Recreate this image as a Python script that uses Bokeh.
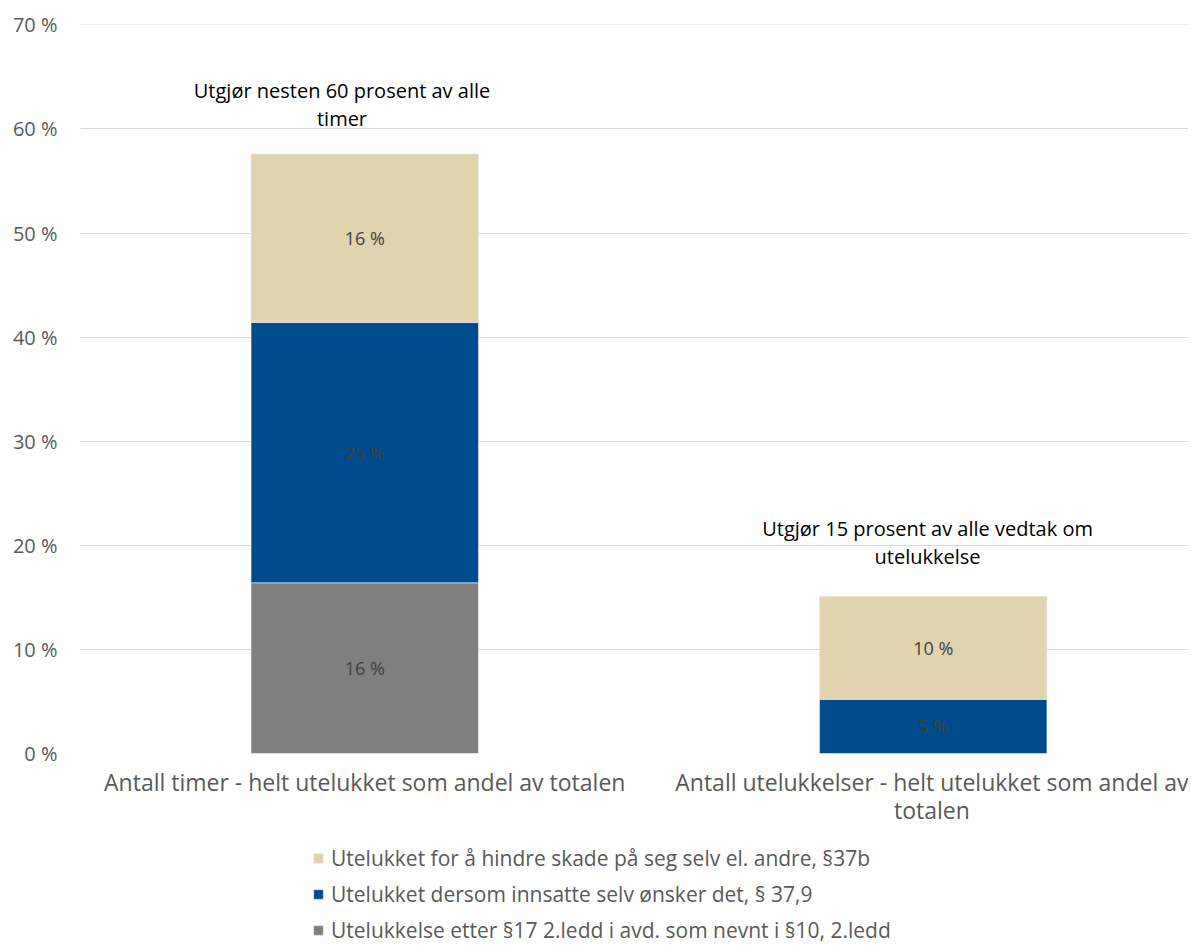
from bokeh.plotting import figure
from bokeh.models import (ColumnDataSource, Range1d, FixedTicker, PrintfTickFormatter,
                          Legend, LegendItem)
from bokeh.layouts import column
from bokeh.core.properties import value
from bokeh.embed import file_html
from bokeh.resources import INLINE

categories = ["Antall timer - helt utelukket som andel av totalen",
              "Antall utelukkelser - helt utelukket som andel av\ntotalen"]
series_names = ["Utelukkelse etter §17 2.ledd i avd. som nevnt i §10, 2.ledd",
                "Utelukket dersom innsatte selv ønsker det, § 37,9",
                "Utelukket for å hindre skade på seg selv el. andre, §37b"]
grey_vals = [16.4, 0.0]
blue_vals = [25.0, 5.2]
beige_vals = [16.2, 9.9]
annotations = ["Utgjør nesten 60 prosent av alle\ntimer",
               "Utgjør 15 prosent av alle vedtak om\nutelukkelse"]
y_ticks = [0, 10, 20, 30, 40, 50, 60, 70]

colors = ["#7F7F7F", "#004B8D", "#E0D3AE"]
keys = ["grey", "blue", "beige"]
FONT = "Open Sans"

xs = [i + 0.5 for i in range(len(categories))]
src = ColumnDataSource(dict(x=xs, grey=grey_vals, blue=blue_vals, beige=beige_vals))

p = figure(width=1188, height=842, output_backend="svg", toolbar_location=None,
           x_range=Range1d(0, 1.949), y_range=Range1d(0, 70.03),
           min_border_left=80, min_border_right=0, min_border_top=24,
           min_border_bottom=89)
p.outline_line_color = None
p.background_fill_color = "white"

rs = p.vbar_stack(keys, x="x", width=0.4, source=src, fill_color=colors,
                  line_color="#E8E8E8", line_width=0.6)

# segment value labels
lab_x, lab_y, lab_t = [], [], []
for i, x in enumerate(xs):
    base = 0.0
    for vals in (grey_vals, blue_vals, beige_vals):
        v = vals[i]
        if v > 0:
            lab_x.append(x)
            lab_y.append(base + v / 2)
            lab_t.append(f"{round(v)} %")
        base += v
p.text(x=lab_x, y=lab_y, text=lab_t, text_align="center", text_baseline="middle",
       text_font=value(FONT), text_font_size="18px", text_color="#404040")

# annotations above bars
tops = [g + b + e for g, b, e in zip(grey_vals, blue_vals, beige_vals)]
ann_x = [xs[0] - 0.04, xs[1] - 0.01]
ann_y = [tops[0] + 4.73, tops[1] + 5.2]
p.text(x=ann_x, y=ann_y, text=annotations, text_align="center", text_baseline="middle",
       text_font=value(FONT), text_font_size="20px", text_color="#000000",
       text_line_height=1.05)

# axes
p.yaxis.ticker = FixedTicker(ticks=y_ticks)
p.yaxis.formatter = PrintfTickFormatter(format="%d %%")
p.yaxis.axis_line_color = None
p.yaxis.major_tick_line_color = None
p.yaxis.minor_tick_line_color = None
p.yaxis.major_label_text_font = FONT
p.yaxis.major_label_text_font_size = "20px"
p.yaxis.major_label_text_color = "#595959"
p.yaxis.major_label_standoff = 17

p.xaxis.ticker = FixedTicker(ticks=xs)
p.xaxis.major_label_overrides = {x: c for x, c in zip(xs, categories)}
p.xaxis.axis_line_color = None
p.xaxis.major_tick_line_color = None
p.xaxis.minor_tick_line_color = None
p.xaxis.major_label_text_font = FONT
p.xaxis.major_label_text_font_size = "23px"
p.xaxis.major_label_text_color = "#595959"
p.xaxis.major_label_text_line_height = 0.9
p.xaxis.major_label_standoff = 6

p.xgrid.grid_line_color = None
p.ygrid.grid_line_color = "#D9D9D9"
p.ygrid.grid_line_width = 1

# legend in a companion strip below the chart
lg = figure(width=1188, height=102, output_backend="svg", toolbar_location=None,
            x_range=Range1d(0, 1), y_range=Range1d(0, 1),
            x_axis_type=None, y_axis_type=None,
            min_border_left=0, min_border_right=0, min_border_top=0, min_border_bottom=0)
lg.outline_line_color = None
lg.xgrid.visible = False
lg.ygrid.visible = False
proxies = lg.vbar_stack(keys, x="x", width=0.4, source=src, fill_color=colors,
                        line_color="#E8E8E8", line_width=0.6)
for r in proxies:
    r.visible = False

items = [LegendItem(label=series_names[k], renderers=[proxies[k]]) for k in (2, 1, 0)]
legend = Legend(items=items, location=(232, 0), orientation="vertical",
                border_line_color=None, background_fill_alpha=0,
                label_text_font=FONT, label_text_font_size="21px",
                label_text_color="#595959", glyph_width=12, glyph_height=12,
                label_standoff=7, spacing=8, padding=0, margin=0)
lg.add_layout(legend, "center")

layout = column(p, lg, spacing=0)
open("out.html", "w").write(file_html(layout, INLINE))
